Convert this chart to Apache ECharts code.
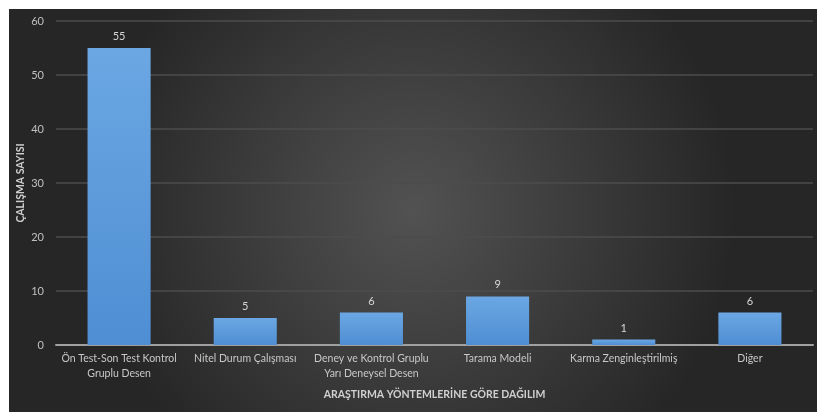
<!DOCTYPE html>
<html>
<head>
<meta charset="utf-8">
<script src="https://cdn.jsdelivr.net/npm/echarts@6/dist/echarts.min.js"></script>
<style>
  html, body { margin: 0; padding: 0; background: #ffffff; }
  #chart { position: absolute; left: 9px; top: 9px; width: 808px; height: 403px; }
</style>
</head>
<body>
<div id="chart"></div>
<script>
// Research methods and number of studies per method
const categories = [
  'Ön Test-Son Test Kontrol\nGruplu Desen',
  'Nitel Durum Çalışması',
  'Deney ve Kontrol Gruplu\nYarı Deneysel Desen',
  'Tarama Modeli',
  'Karma Zenginleştirilmiş',
  'Diğer'
];
const studyCounts = [55, 5, 6, 9, 1, 6];
const yTicks = [0, 10, 20, 30, 40, 50, 60];

const FONT = 'Lato, "Open Sans", sans-serif';

const chart = echarts.init(document.getElementById('chart'));
chart.setOption({
  backgroundColor: new echarts.graphic.RadialGradient(0.5, 0.5, 0.8, [
    { offset: 0, color: '#525252' },
    { offset: 0.5, color: '#3c3c3c' },
    { offset: 1, color: '#262626' }
  ]),
  animation: false,
  grid: { left: 47, right: 4, top: 12, bottom: 67, containLabel: false, outerBoundsMode: 'none' },
  xAxis: {
    type: 'category',
    data: categories,
    name: 'ARAŞTIRMA YÖNTEMLERİNE GÖRE DAĞILIM',
    nameLocation: 'middle',
    nameGap: 44,
    nameMoveOverlap: false,
    nameTextStyle: { color: '#d0d0d0', fontFamily: FONT, fontSize: 10.5, fontWeight: 'bold' },
    axisLine: { lineStyle: { color: '#a0a0a0', width: 2 } },
    axisTick: { show: false },
    axisLabel: { color: '#c8c8c8', fontFamily: FONT, fontSize: 10.5, interval: 0, margin: 6, lineHeight: 15 }
  },
  yAxis: {
    type: 'value',
    min: yTicks[0],
    max: yTicks[yTicks.length - 1],
    interval: 10,
    name: 'ÇALIŞMA SAYISI',
    nameLocation: 'middle',
    nameRotate: 90,
    nameGap: 30,
    nameMoveOverlap: false,
    nameTextStyle: { color: '#d0d0d0', fontFamily: FONT, fontSize: 10.5, fontWeight: 'bold' },
    axisLine: { show: false },
    axisTick: { show: false },
    axisLabel: { color: '#c0c0c0', fontFamily: FONT, fontSize: 11, margin: 12 },
    splitLine: { lineStyle: { color: '#4c4c4c', width: 1.5 } }
  },
  series: [{
    type: 'bar',
    data: studyCounts,
    barWidth: '50%',
    itemStyle: {
      color: new echarts.graphic.LinearGradient(0, 0, 0, 1, [
        { offset: 0, color: '#6aa7e3' },
        { offset: 1, color: '#4f8ed3' }
      ])
    },
    label: {
      show: true,
      position: 'top',
      distance: 6,
      color: '#d8d8d8',
      fontFamily: FONT,
      fontSize: 11
    }
  }]
});
</script>
</body>
</html>
